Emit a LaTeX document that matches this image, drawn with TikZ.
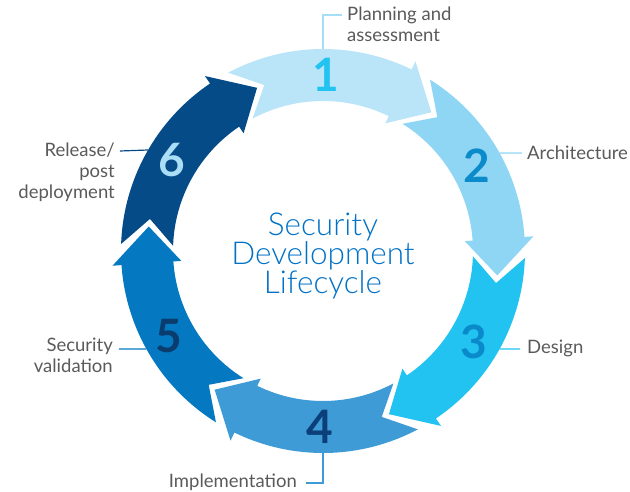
\documentclass[tikz,border=0pt]{standalone}
\usepackage{fontspec}
\setsansfont{Lato}
\newfontfamily\lightfont{Lato Light}
\renewcommand{\familydefault}{\sfdefault}
\usetikzlibrary{positioning}

\definecolor{segA}{HTML}{BAE5F9}
\definecolor{segB}{HTML}{8FD6F5}
\definecolor{segC}{HTML}{22C3F1}
\definecolor{segD}{HTML}{3F9BD5}
\definecolor{segE}{HTML}{0479C2}
\definecolor{segF}{HTML}{054B88}
\definecolor{numA}{HTML}{22C3F1}
\definecolor{numB}{HTML}{0C8BCB}
\definecolor{numC}{HTML}{0A8ACB}
\definecolor{numD}{HTML}{0B3F7A}
\definecolor{numE}{HTML}{0A3D6E}
\definecolor{numF}{HTML}{A9DEF6}
\definecolor{labelgray}{HTML}{5A5A5A}
\definecolor{titleblue}{HTML}{0071C5}

\begin{document}
\begin{tikzpicture}[x=1pt, y=1pt,
    lbl/.style={font=\fontsize{18.5}{21}\selectfont, text=labelgray, inner sep=0pt},
    num/.style={font=\fontsize{46}{46}\selectfont\bfseries, inner sep=0pt},
    lead/.style={line width=1.2pt}]

    \def \R {202};
    \def \r {150};
    \def \m {176};

    \useasboundingbox (-323,-241) rectangle (307,251);

    % ring of arrows, clockwise
    \foreach \c/\col/\ncol/\n in {90/segA/numA/1, 30/segB/numB/2, -30/segC/numC/3, -90/segD/numD/4, -150/segE/numE/5, 150/segF/numF/6}
    {
        \fill[\col] ({\c+28}:\R) arc[start angle={\c+28}, end angle={\c-26}, radius=\R]
            -- ({\c-26}:{\R+9}) -- ({\c-38}:\m) -- ({\c-26}:{\r-8})
            -- ({\c-26}:\r) arc[start angle={\c-26}, end angle={\c+28}, radius=\r]
            -- ({\c+19.5}:\m) -- cycle;
        \node[num, text=\ncol] (n\n) at ({\c-1}:\m) {\n};
    }

    \node[font=\lightfont\fontsize{31.5}{29}\selectfont, text=titleblue, align=center] (title) at (0,-5) {Security\\Development\\Lifecycle};

    % labels
    \node[lbl, align=left, anchor=north west] (l1) at (24,244) {Planning and\\assessment};
    \node[lbl, anchor=west] (l2) at (204,98) {Architecture};
    \node[lbl, anchor=west] (l3) at (204,-97) {Design};
    \node[lbl, anchor=east] (l4) at (-26,-231) {Implementation};
    \node[lbl, align=right, anchor=north east] (l5) at (-210,-87) {Security\\validation};
    \node[lbl, align=right, anchor=north east] (l6) at (-208,108) {Release/\\post\\deployment};

    % leaders
    \coordinate (a1) at (90:\R);
    \coordinate (k1) at (19,236);
    \coordinate (a2) at (29:\R);
    \coordinate (k2) at (199,98);
    \coordinate (a3) at (-29:\R);
    \coordinate (k3) at (197,-98);
    \coordinate (a4) at (-90:\R);
    \coordinate (k4) at (-17,-232);
    \coordinate (a5) at (-151:\R);
    \coordinate (k5) at (-204,-98);
    \coordinate (a6) at (150:\R);
    \coordinate (k6) at (-203,100);

    \draw[lead, segB!80] (a1) |- (k1);
    \draw[lead, segB] (a2) -- (k2);
    \draw[lead, segC] (a3) -- (k3);
    \draw[lead, segD] (a4) |- (k4);
    \draw[lead, segE] (a5) -- (k5);
    \draw[lead, segF] (a6) -- (k6);
\end{tikzpicture}
\end{document}
